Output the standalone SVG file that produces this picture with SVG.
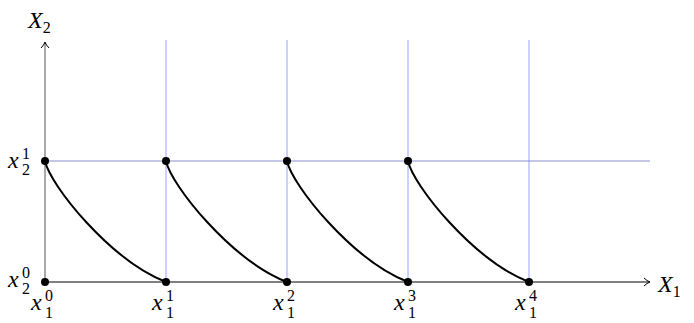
<svg xmlns="http://www.w3.org/2000/svg" width="694" height="323" viewBox="0 0 694 323">
<style>
.grid{stroke:#aab0ff;stroke-width:1.2;fill:none}
.curve{stroke:#000;stroke-width:2;fill:none}
.axis{stroke:#000;stroke-width:1;fill:none}
.lbl{font-family:"Liberation Serif","Times New Roman",serif;fill:#000;font-size:16px}
.it{font-style:italic;font-size:24px}
</style>
<defs>
<marker id="arr" markerWidth="10" markerHeight="10" refX="7" refY="5" orient="auto" markerUnits="userSpaceOnUse">
<path d="M1,1 Q4,4 7,5 Q4,6 1,9" fill="none" stroke="#000" stroke-width="1"/>
</marker>
</defs>
<g id="grid">
<line class="grid" x1="166" y1="40" x2="166" y2="282"/>
<line class="grid" x1="287" y1="40" x2="287" y2="282"/>
<line class="grid" x1="408" y1="40" x2="408" y2="282"/>
<line class="grid" x1="529" y1="40" x2="529" y2="282"/>
<line x1="45" y1="161" x2="650" y2="161" stroke="#8890c8" stroke-width="1"/>
</g>
<g id="axes">
<line class="axis" x1="45" y1="282" x2="650" y2="282" marker-end="url(#arr)"/>
<line x1="45" y1="282" x2="45" y2="42" stroke="#555" stroke-width="1" marker-end="url(#arr)"/>
</g>
<g id="connectors">
<path class="curve" d="M45,161 C50,185 110,260 166,282"/>
<path class="curve" d="M166,161 C171,185 231,260 287,282"/>
<path class="curve" d="M287,161 C292,185 352,260 408,282"/>
<path class="curve" d="M408,161 C413,185 473,260 529,282"/>
</g>
<g id="points" fill="#000">
<circle cx="45" cy="161" r="4"/>
<circle cx="166" cy="161" r="4"/>
<circle cx="287" cy="161" r="4"/>
<circle cx="408" cy="161" r="4"/>
<circle cx="45" cy="282" r="4"/>
<circle cx="166" cy="282" r="4"/>
<circle cx="287" cy="282" r="4"/>
<circle cx="408" cy="282" r="4"/>
<circle cx="529" cy="282" r="4"/>
</g>
<g id="labels" class="lbl">
<text x="28" y="28"><tspan class="it">X</tspan><tspan dy="5">2</tspan></text>
<text x="658" y="292"><tspan class="it">X</tspan><tspan dy="5">1</tspan></text>
<text x="8" y="168"><tspan class="it">x</tspan><tspan x="22" y="159">1</tspan><tspan x="22" y="175">2</tspan></text>
<text x="8" y="287"><tspan class="it">x</tspan><tspan x="22" y="278">0</tspan><tspan x="22" y="294">2</tspan></text>
<text x="31" y="310"><tspan class="it">x</tspan><tspan x="45" y="301">0</tspan><tspan x="45" y="318">1</tspan></text>
<text x="152" y="310"><tspan class="it">x</tspan><tspan x="166" y="301">1</tspan><tspan x="166" y="318">1</tspan></text>
<text x="273" y="310"><tspan class="it">x</tspan><tspan x="287" y="301">2</tspan><tspan x="287" y="318">1</tspan></text>
<text x="394" y="310"><tspan class="it">x</tspan><tspan x="408" y="301">3</tspan><tspan x="408" y="318">1</tspan></text>
<text x="515" y="310"><tspan class="it">x</tspan><tspan x="529" y="301">4</tspan><tspan x="529" y="318">1</tspan></text>
</g>
</svg>
